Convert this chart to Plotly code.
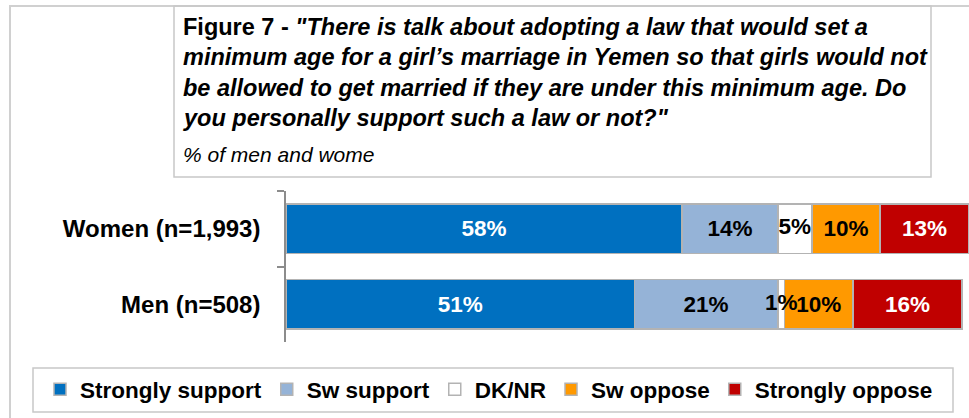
import plotly.graph_objects as go

W, H = 969, 418

categories = ["Women (n=1,993)", "Men (n=508)"]
series_names = ["Strongly support", "Sw support", "DK/NR", "Sw oppose", "Strongly oppose"]
strongly_support = [58, 51]
sw_support = [14, 21]
dk_nr = [5, 1]
sw_oppose = [10, 10]
strongly_oppose = [13, 16]
series_values = [strongly_support, sw_support, dk_nr, sw_oppose, strongly_oppose]

colors = ["#0070C0", "#95B3D7", "#FFFFFF", "#FF9900", "#C00000"]
text_colors = ["#FFFFFF", "#000000", "#000000", "#000000", "#FFFFFF"]

title_lines = [
    "<b>Figure 7 - </b><b><i>\"There is talk about adopting a law that would set a</i></b>",
    "<b><i>minimum age for a girl’s marriage in Yemen so that girls would not</i></b>",
    "<b><i>be allowed to get married if they are under this minimum age. Do</i></b>",
    "<b><i>you personally support such a law or not?\"</i></b>",
]
subtitle = "<i>% of men and wome</i>"

FONT = "Liberation Sans, Arial, sans-serif"


def px(x):
    return x / W


def py(y):
    return 1 - y / H


fig = go.Figure()
cum = [0] * len(categories)
overlay_labels = []  # labels of narrow segments drawn on top of all bars
for i, (name, vals, col, tcol) in enumerate(zip(series_names, series_values, colors, text_colors)):
    on_top = name == "DK/NR"
    fig.add_trace(go.Bar(
        y=categories, x=vals, name=name, orientation="h",
        marker=dict(color=col, line=dict(color="#B3B3B3", width=1.5)),
        text=None if on_top else [f"{v}%" for v in vals],
        textposition="inside", textangle=0,
        insidetextanchor="middle", constraintext="none",
        textfont=dict(family=FONT, size=22.5, color=tcol, weight="bold"),
        hoverinfo="skip", cliponaxis=False,
    ))
    if on_top:
        overlay_labels.append(([c + v / 2 for c, v in zip(cum, vals)], [f"{v}%" for v in vals], tcol))
    cum = [c + v for c, v in zip(cum, vals)]

for xs, texts, tcol in overlay_labels:
    fig.add_trace(go.Scatter(
        x=xs, y=categories, mode="text", text=texts, textposition="middle center",
        textfont=dict(family=FONT, size=22.5, color=tcol, weight="bold"),
        showlegend=False, hoverinfo="skip", cliponaxis=False,
    ))

fig.update_layout(
    width=W, height=H,
    margin=dict(l=0, r=0, t=0, b=0),
    paper_bgcolor="white", plot_bgcolor="white",
    barmode="stack", bargap=0.34,
    showlegend=True,
    legend=dict(orientation="h", x=px(40), xanchor="left", y=py(368), yanchor="top",
                font=dict(family=FONT, size=22.5, color="#000000", weight="bold"),
                bgcolor="rgba(0,0,0,0)", traceorder="normal", itemclick=False),
    xaxis=dict(domain=[px(286), 1], range=[0, 100], visible=False, fixedrange=True),
    yaxis=dict(domain=[py(342), py(191)], autorange="reversed", type="category",
               showline=True, linecolor="#8C8C8C", linewidth=1.5,
               ticks="outside", tickson="boundaries", ticklen=7, tickcolor="#8C8C8C", tickwidth=1.5,
               ticklabelstandoff=19,
               tickfont=dict(family=FONT, size=24, color="#000000", weight="bold"),
               showgrid=False, zeroline=False, fixedrange=True),
    font=dict(family=FONT),
)

shapes = [
    # outer chart border (left and top)
    dict(type="line", xref="paper", yref="paper", x0=px(10), x1=px(10), y0=py(6), y1=py(420),
         line=dict(color="#D0D0D0", width=2)),
    dict(type="line", xref="paper", yref="paper", x0=px(9), x1=px(975), y0=py(6), y1=py(6),
         line=dict(color="#D0D0D0", width=2)),
    # title box
    dict(type="rect", xref="paper", yref="paper", x0=px(174), x1=px(931), y0=py(6), y1=py(177),
         line=dict(color="#C8C8C8", width=1.5), fillcolor="rgba(0,0,0,0)"),
    # legend box
    dict(type="rect", xref="paper", yref="paper", x0=px(33), x1=px(953), y0=py(368), y1=py(412),
         line=dict(color="#C8C8C8", width=1.5), fillcolor="rgba(0,0,0,0)"),
]
fig.update_layout(shapes=shapes)

TS = 23.5
base = [35, 65.5, 96, 126.5]
for line, b in zip(title_lines, base):
    fig.add_annotation(text=line, xref="paper", yref="paper", x=px(181), y=py(b - 0.35 * TS),
                       xanchor="left", yanchor="middle", showarrow=False, align="left",
                       font=dict(family=FONT, size=TS, color="#000000"))
fig.add_annotation(text=subtitle, xref="paper", yref="paper", x=px(181), y=py(162 - 0.35 * 21),
                   xanchor="left", yanchor="middle", showarrow=False, align="left",
                   font=dict(family=FONT, size=21, color="#000000"))

fig.write_html("out.html")
